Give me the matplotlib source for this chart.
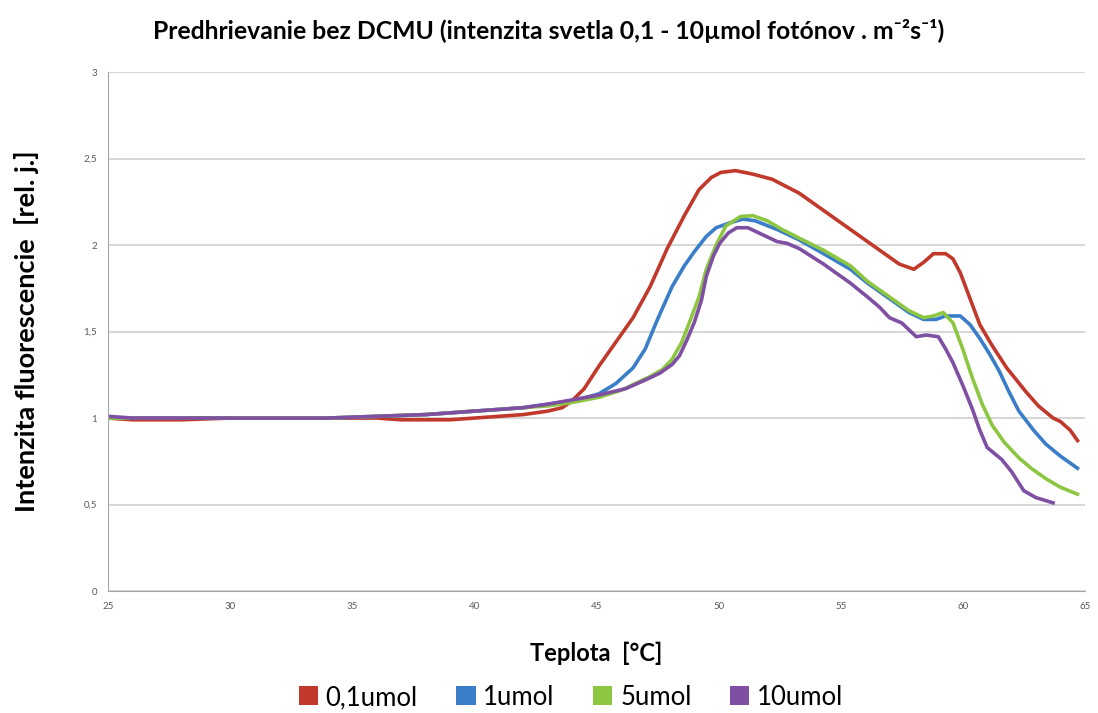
import matplotlib
matplotlib.use('Agg')
import matplotlib.pyplot as plt
from matplotlib.patches import Patch

plt.rcParams['font.family'] = ['Lato', 'DejaVu Sans']

# temperature (°C) / relative fluorescence
t_01 = [25, 26, 28, 30, 32, 34, 36, 37, 38, 39, 40, 41, 42, 43, 43.6, 44.0, 44.5, 45.1,
        45.8, 46.5, 47.2, 47.9, 48.6, 49.2, 49.7, 50.1, 50.7, 51.4, 52.2, 53.3, 54.3,
        55.4, 56.4, 57.4, 58.0, 58.4, 58.8, 59.3, 59.6, 59.9, 60.3, 60.7, 61.2, 61.8,
        62.2, 62.6, 63.1, 63.7, 64.0, 64.4, 64.7]
v_01 = [1.0, 0.99, 0.99, 1.0, 1.0, 1.0, 1.0, 0.99, 0.99, 0.99, 1.0, 1.01, 1.02, 1.04, 1.06,
        1.1, 1.17, 1.3, 1.44, 1.58, 1.76, 1.98, 2.17, 2.32, 2.39, 2.42, 2.43, 2.41, 2.38,
        2.3, 2.2, 2.09, 1.99, 1.89, 1.86, 1.9, 1.95, 1.95, 1.92, 1.84, 1.69, 1.54, 1.42,
        1.29, 1.22, 1.15, 1.07, 1.0, 0.98, 0.93, 0.87]

t_1 = [25, 26, 28, 30, 32, 34, 36, 38, 40, 41, 42, 43, 44, 44.6, 45.1, 45.8, 46.5, 47.0,
       47.5, 48.1, 48.6, 49.0, 49.5, 49.9, 50.5, 51.0, 51.5, 52.4, 53.3, 54.3, 55.4,
       56.1, 57.0, 57.8, 58.4, 58.9, 59.3, 59.9, 60.3, 60.7, 61.1, 61.5, 61.9, 62.3,
       62.9, 63.4, 64.0, 64.7]
v_1 = [1.0, 1.0, 1.0, 1.0, 1.0, 1.0, 1.01, 1.02, 1.04, 1.05, 1.06, 1.08, 1.1, 1.12, 1.14,
       1.2, 1.29, 1.4, 1.57, 1.76, 1.88, 1.96, 2.05, 2.1, 2.13, 2.15, 2.14, 2.09, 2.03,
       1.95, 1.86, 1.78, 1.69, 1.61, 1.57, 1.57, 1.59, 1.59, 1.54, 1.46, 1.37, 1.27,
       1.15, 1.04, 0.93, 0.85, 0.78, 0.71]

t_5 = [25, 26, 28, 30, 32, 34, 36, 38, 40, 41, 42, 43, 44, 45.1, 46.0, 46.6, 47.2, 47.7,
       48.1, 48.5, 48.8, 49.2, 49.5, 49.9, 50.3, 50.9, 51.4, 52.0, 52.6, 53.3, 54.3,
       55.4, 56.1, 57.0, 57.8, 58.4, 58.8, 59.2, 59.6, 60.0, 60.4, 60.8, 61.2, 61.7,
       62.3, 62.8, 63.4, 64.0, 64.7]
v_5 = [1.0, 1.0, 1.0, 1.0, 1.0, 1.0, 1.01, 1.02, 1.04, 1.05, 1.06, 1.07, 1.09, 1.12, 1.16,
       1.2, 1.24, 1.28, 1.34, 1.44, 1.55, 1.7, 1.86, 2.0, 2.11, 2.165, 2.17, 2.14, 2.09,
       2.04, 1.97, 1.88, 1.79, 1.7, 1.62, 1.58, 1.59, 1.61, 1.55, 1.4, 1.23, 1.08, 0.96,
       0.86, 0.77, 0.71, 0.65, 0.6, 0.56]

t_10 = [25, 26, 28, 30, 32, 34, 36, 38, 40, 41, 42, 43, 43.8, 45.0, 46.2, 47.0, 47.6,
        48.1, 48.4, 48.7, 49.0, 49.3, 49.5, 49.8, 50.05, 50.4, 50.75, 51.2, 51.8, 52.4,
        52.8, 53.3, 54.3, 55.4, 56.1, 56.6, 57.0, 57.5, 58.1, 58.5, 59.0, 59.3, 59.6,
        60.0, 60.4, 60.7, 61.0, 61.6, 62.0, 62.5, 63.0, 63.7]
v_10 = [1.01, 1.0, 1.0, 1.0, 1.0, 1.0, 1.01, 1.02, 1.04, 1.05, 1.06, 1.08, 1.1, 1.13,
        1.17, 1.22, 1.26, 1.31, 1.36, 1.45, 1.55, 1.68, 1.82, 1.94, 2.01, 2.07, 2.1,
        2.1, 2.06, 2.02, 2.01, 1.98, 1.89, 1.78, 1.7, 1.64, 1.58, 1.55, 1.47, 1.48, 1.47,
        1.4, 1.32, 1.19, 1.05, 0.93, 0.83, 0.76, 0.69, 0.58, 0.54, 0.51]

labels = ['0,1umol', '1umol', '5umol', '10umol']
colors = ['#c0392b', '#3a7dc9', '#8dc641', '#7e4fa2']
series = [(t_01, v_01), (t_1, v_1), (t_5, v_5), (t_10, v_10)]

fig = plt.figure(figsize=(10.98, 7.13), dpi=100)
ax = fig.add_axes([0.0984, 0.171, 0.8896, 0.728])

for (t, v), c in zip(series, colors):
    ax.plot(t, v, color=c, linewidth=2.6, solid_joinstyle='round')

ax.set_xlim(25, 65)
ax.set_ylim(0, 3)
ax.set_xticks(range(25, 66, 5))
ax.set_yticks([0, 0.5, 1, 1.5, 2, 2.5, 3])
ax.set_yticklabels(['0', '0,5', '1', '1,5', '2', '2,5', '3'])
ax.tick_params(length=0, labelsize=7, colors='#595959', pad=8)
ax.grid(True, axis='y', color='#d0d0d0', linewidth=1.2)
ax.set_axisbelow(True)
for s in ['top', 'right']:
    ax.spines[s].set_visible(False)
for s in ['left', 'bottom']:
    ax.spines[s].set_color('#a6a6a6')

ax.set_xlabel('Teplota  [°C]', fontsize=17, fontweight='bold', labelpad=22)
ax.set_ylabel('Intenzita fluorescencie  [rel. j.]', fontsize=19.5, fontweight='bold',
              labelpad=32)

fig.text(0.5, 0.957, 'Predhrievanie bez DCMU (intenzita svetla 0,1 - 10µmol fotónov . m⁻²s⁻¹)',
         ha='center', va='center', fontsize=17.8, fontweight='bold')

handles = [Patch(facecolor=c, edgecolor='none') for c in colors]
fig.legend(handles, labels, loc='center', bbox_to_anchor=(0.52, 0.022), ncol=4,
           frameon=False, fontsize=18.5, handlelength=0.75, handleheight=0.75,
           handletextpad=0.3, columnspacing=1.5)

fig.savefig('out.png', dpi=100)
